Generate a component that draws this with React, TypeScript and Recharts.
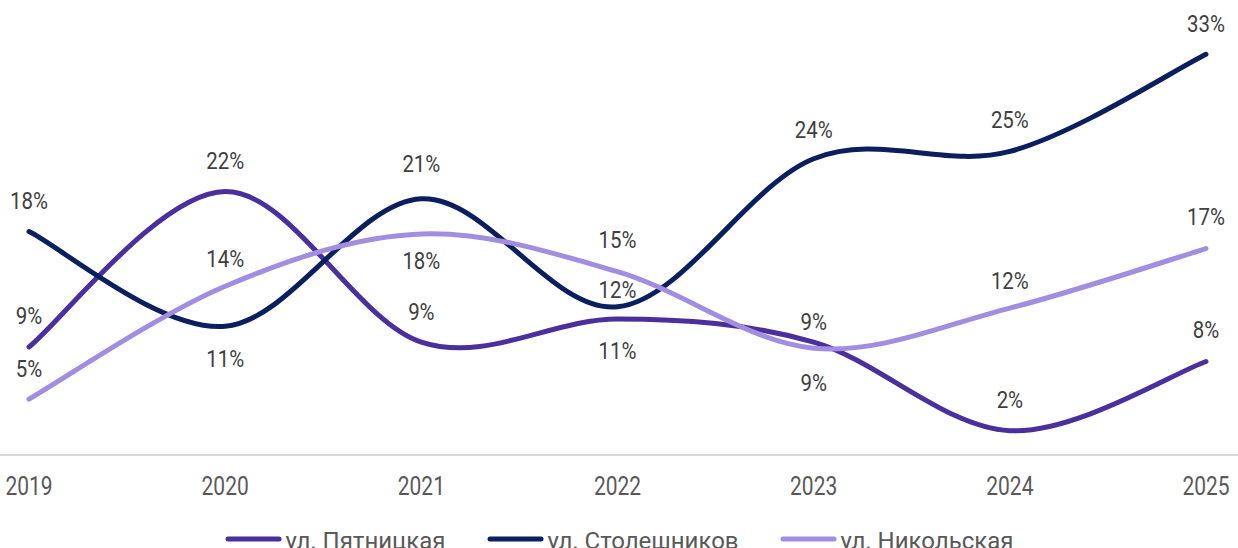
import React from 'react';
import { LineChart, Line, XAxis, YAxis, Legend, LabelList } from 'recharts';

// Years on the category axis
const years = ['2019', '2020', '2021', '2022', '2023', '2024', '2025'];

// Share, %
const pyatnitskaya = [8.9, 21.7, 9.3, 11.2, 9.3, 2.0, 7.7];
const stoleshnikov = [18.4, 10.6, 21.1, 12.2, 24.4, 25.0, 33.0];
const nikolskaya = [4.6, 13.9, 18.2, 15.1, 8.8, 12.1, 17.0];

const data = years.map((year, i) => ({
  year,
  p: pyatnitskaya[i],
  s: stoleshnikov[i],
  n: nikolskaya[i],
}));

// label offset from the point (px, label middle), per year
const SERIES = [
  { key: 'p', name: 'ул. Пятницкая', color: '#4B2F9C', shift: [-31, -31, -31, 31, 40, -31, -32] },
  { key: 's', name: 'ул. Столешников', color: '#0B1F5E', shift: [-31, 32, -35, -17, -29, -32, -31] },
  { key: 'n', name: 'ул. Никольская', color: '#A38DE0', shift: [-31, -28, 26, -32, -27, -28, -32] },
];

const FONT = 'Roboto, "Noto Sans", sans-serif';

// Excel-like smoothed line (cardinal / catmull-rom style bezier)
function excelSmooth(context: any) {
  let pts: number[][] = [];
  return {
    areaStart() {},
    areaEnd() {},
    lineStart() {
      pts = [];
    },
    point(x: number, y: number) {
      pts.push([+x, +y]);
    },
    lineEnd() {
      const n = pts.length;
      if (!n) return;
      context.moveTo(pts[0][0], pts[0][1]);
      for (let i = 0; i < n - 1; i++) {
        const p0 = pts[Math.max(i - 1, 0)];
        const p1 = pts[i];
        const p2 = pts[i + 1];
        const p3 = pts[Math.min(i + 2, n - 1)];
        context.bezierCurveTo(
          p1[0] + (p2[0] - p0[0]) / 6,
          p1[1] + (p2[1] - p0[1]) / 6,
          p2[0] - (p3[0] - p1[0]) / 6,
          p2[1] - (p3[1] - p1[1]) / 6,
          p2[0],
          p2[1]
        );
      }
    },
  };
}

const makeLabel = (shift: number[]) => (props: any) => {
  const x = props.viewBox?.x ?? props.x;
  const y = props.viewBox?.y ?? props.y;
  const idx = props.index ?? 0;
  const cy = y + (shift[idx] ?? -31);
  return (
    <g transform={`translate(${x},${cy + 8.5})`}>
      <text
        x={0}
        y={0}
        textAnchor="middle"
        transform="scale(0.85,1)"
        fill="#404040"
        fontSize={24}
        fontFamily={FONT}
      >
        {`${Math.round(props.value)}%`}
      </text>
    </g>
  );
};

const YearTick = ({ x, y, payload }: any) => (
  <g transform={`translate(${x},${y})`}>
    <text
      x={0}
      y={0}
      dy={40}
      textAnchor="middle"
      transform="scale(0.84,1)"
      fill="#595959"
      fontSize={25}
      fontFamily={FONT}
    >
      {payload.value}
    </text>
  </g>
);

// legend keeps the series order (recharts would sort it by name)
const renderLegend = () => (
  <div style={{ height: 30, position: 'relative' }}>
    <div
      style={{
        position: 'relative',
        top: 9,
        display: 'flex',
        justifyContent: 'center',
        gap: 41,
        fontFamily: FONT,
      }}
    >
      {SERIES.map((s) => (
        <div key={s.key} style={{ display: 'flex', alignItems: 'center' }}>
          <svg width={57} height={8} style={{ position: 'relative', top: -2 }}>
            <line x1={3} y1={4} x2={54} y2={4} stroke={s.color} strokeWidth={5} strokeLinecap="round" />
          </svg>
          <span style={{ marginLeft: 4, fontSize: 24, color: '#595959', lineHeight: 'normal' }}>
            {s.name}
          </span>
        </div>
      ))}
    </div>
  </div>
);

export default function App() {
  return (
    <div style={{ position: 'absolute', left: 0, top: 0, width: 1238, height: 548, background: '#fff' }}>
      <LineChart width={1238} height={548} data={data} margin={{ top: 30, right: 0, bottom: 0, left: 0 }}>
        <XAxis
          dataKey="year"
          axisLine={{ stroke: '#D9D9D9', strokeWidth: 2 }}
          tickLine={false}
          tickSize={0}
          tickMargin={0}
          tick={<YearTick />}
          interval={0}
          height={63}
          padding={{ left: 29, right: 32 }}
        />
        <YAxis hide type="number" domain={[0, 35]} />
        <Legend verticalAlign="bottom" content={renderLegend} />
        {SERIES.map((s) => (
          <Line
            key={s.key}
            dataKey={s.key}
            name={s.name}
            stroke={s.color}
            strokeWidth={5}
            strokeLinecap="round"
            type={excelSmooth as any}
            dot={false}
            activeDot={false}
            isAnimationActive={false}
          >
            <LabelList dataKey={s.key} content={makeLabel(s.shift)} />
          </Line>
        ))}
      </LineChart>
    </div>
  );
}
